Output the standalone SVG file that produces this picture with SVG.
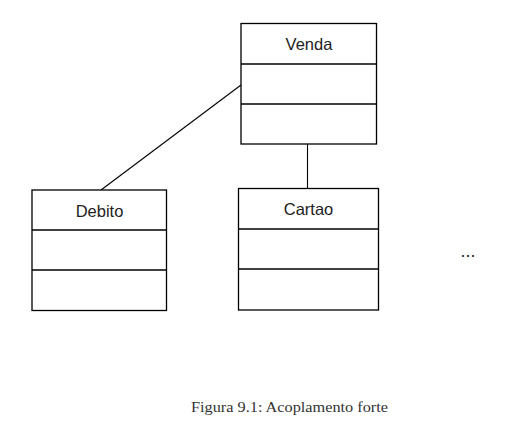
<svg xmlns="http://www.w3.org/2000/svg" width="523" height="423" viewBox="0 0 523 423">
<style>
.box{fill:#ffffff;stroke:#000000;stroke-width:1.3}
.div{stroke:#000000;stroke-width:1.3}
.name{font-family:"Liberation Sans",Arial,sans-serif;font-size:16.5px;fill:#222222;text-anchor:middle}
.conn{stroke:#000000;stroke-width:1.1;fill:none}
.cap{font-family:"Liberation Serif","Times New Roman",serif;font-size:15.5px;fill:#333333;text-anchor:middle}
</style>
<rect width="523" height="423" fill="#ffffff"/>
<g id="connectors">
<line class="conn" x1="101" y1="190" x2="241" y2="85"/>
<line class="conn" x1="307.5" y1="144" x2="307.5" y2="188"/>
</g>
<g id="venda">
<rect class="box" x="241" y="23.5" width="135.5" height="120.5"/>
<line class="div" x1="241" y1="64" x2="376.5" y2="64"/>
<line class="div" x1="241" y1="104" x2="376.5" y2="104"/>
<text class="name" x="309" y="50">Venda</text>
</g>
<g id="debito">
<rect class="box" x="32" y="190" width="134.5" height="120.5"/>
<line class="div" x1="32" y1="230" x2="166.5" y2="230"/>
<line class="div" x1="32" y1="270" x2="166.5" y2="270"/>
<text class="name" x="99.5" y="216.5">Debito</text>
</g>
<g id="cartao">
<rect class="box" x="238.5" y="188.5" width="140" height="121.5"/>
<line class="div" x1="238.5" y1="229" x2="378.5" y2="229"/>
<line class="div" x1="238.5" y1="269" x2="378.5" y2="269"/>
<text class="name" x="308.5" y="215">Cartao</text>
</g>
<text class="name" x="468" y="257" style="font-size:18px">...</text>
<text class="cap" x="289.5" y="412" textLength="197" lengthAdjust="spacingAndGlyphs">Figura 9.1: Acoplamento forte</text>
</svg>
